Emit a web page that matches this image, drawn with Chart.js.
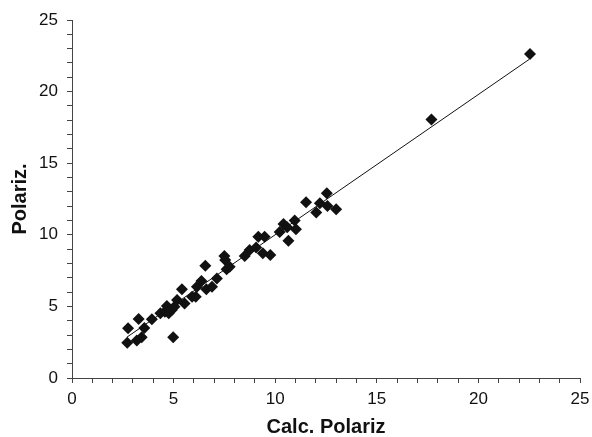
<!DOCTYPE html>
<html lang="en">
<head>
  <meta charset="UTF-8" />
  <title>Polariz vs Calc. Polariz</title>
  <style>
    html, body {
      margin: 0;
      padding: 0;
      background: white;
    }
    #chart {
      display: block;
    }
  </style>
</head>
<body>

<canvas id="chart" width="592" height="437"></canvas>

<script src="https://cdn.jsdelivr.net/npm/chart.js"></script>

<script>
  const calcPolariz = [
    2.72, 2.76, 3.19, 3.28, 3.43, 3.56, 3.93, 4.35, 4.57, 4.67,
    4.76, 4.91, 4.98, 5.04, 5.17, 5.41, 5.54, 5.91, 6.09, 6.15,
    6.37, 6.56, 6.61, 6.89, 7.13, 7.50, 7.54, 7.61, 7.76, 8.50,
    8.74, 9.06, 9.17, 9.39, 9.48, 9.76, 10.22, 10.41, 10.59, 10.65,
    10.96, 11.02, 11.52, 12.02, 12.20, 12.54, 12.57, 13.00, 17.69, 22.54
  ];
  const polariz = [
    2.47, 3.47, 2.61, 4.12, 2.84, 3.50, 4.10, 4.52, 4.63, 5.03,
    4.52, 4.75, 2.84, 4.98, 5.45, 6.19, 5.21, 5.68, 5.68, 6.38,
    6.77, 7.84, 6.19, 6.38, 6.94, 8.52, 8.24, 7.59, 7.77, 8.52,
    8.94, 9.12, 9.87, 8.71, 9.87, 8.59, 10.20, 10.75, 10.52, 9.59,
    10.99, 10.38, 12.27, 11.55, 12.20, 12.90, 12.01, 11.78, 18.06, 22.63
  ];

  // fitted line ends
  const fitX = [2.7, 22.5];
  const fitY = [2.85, 22.25];

  const xTicks = [0, 5, 10, 15, 20, 25];
  const yTicks = [0, 5, 10, 15, 20, 25];

  const axisColor = '#444';
  const tickFont = { family: 'Liberation Sans, Arial, sans-serif', size: 17 };
  const titleFont = { family: 'Liberation Sans, Arial, sans-serif', size: 20, weight: 'bold', lineHeight: 1.0 };

  const points = calcPolariz.map((x, i) => ({ x: x, y: polariz[i] }));
  const fitLine = fitX.map((x, i) => ({ x: x, y: fitY[i] }));

  function axis(title, labels, isY) {
    return {
      type: 'linear',
      min: 0,
      max: 25,
      ticks: {
        stepSize: 1,
        autoSkip: false,
        maxRotation: 0,
        color: '#111',
        font: tickFont,
        padding: isY ? 9 : 6,
        callback: v => labels.includes(v) ? String(v) : ''
      },
      grid: {
        display: true,
        drawOnChartArea: false,
        drawTicks: true,
        tickLength: 5,
        color: axisColor
      },
      border: { display: true, color: axisColor, width: 1 },
      title: {
        display: true,
        text: title,
        color: '#111',
        font: titleFont,
        padding: isY ? { top: 10, bottom: 0 } : { top: 0, bottom: 0 }
      },
      afterFit: scale => {
        if (isY) {
          scale.width = 72;
        } else {
          scale.height = 59;
          scale.paddingRight = 12;
        }
      }
    };
  }

  const ctx = document.getElementById('chart').getContext('2d');
  const chart = new Chart(ctx, {
    type: 'scatter',
    data: {
      datasets: [
        {
          label: 'Fit',
          type: 'line',
          data: fitLine,
          borderColor: '#111',
          borderWidth: 1,
          pointRadius: 0,
          fill: false,
          order: 2
        },
        {
          label: 'Polariz.',
          data: points,
          pointStyle: 'rectRot',
          pointRadius: 6,
          pointBackgroundColor: '#111',
          pointBorderWidth: 0,
          order: 1
        }
      ]
    },
    options: {
      responsive: false,
      animation: false,
      layout: { padding: { top: 20, right: 2, left: 0, bottom: 0 } },
      plugins: {
        legend: { display: false },
        tooltip: { enabled: false }
      },
      scales: {
        x: axis('Calc. Polariz', xTicks, false),
        y: axis('Polariz.', yTicks, true)
      }
    }
  });
</script>

</body>
</html>
